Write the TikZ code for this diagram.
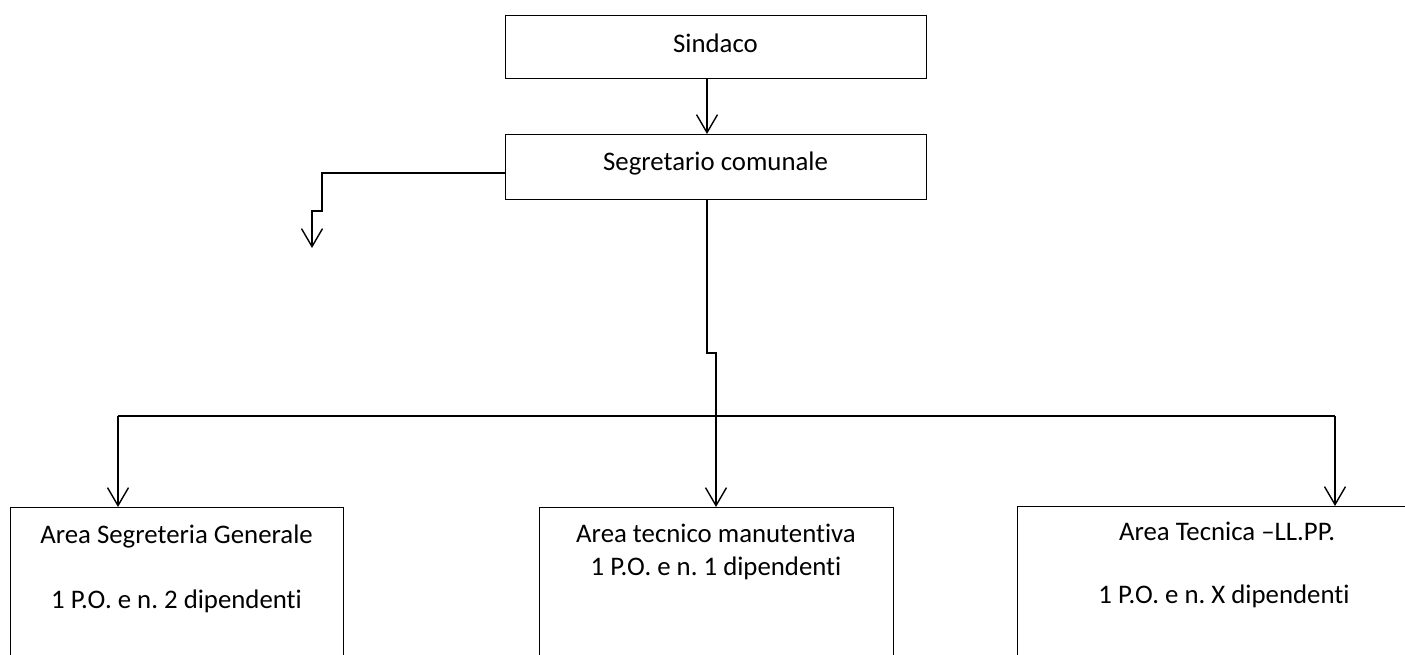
\documentclass[tikz,border=0pt]{standalone}
\usepackage{fontspec}
\setmainfont[Ligatures={NoCommon}]{Carlito}
\usetikzlibrary{arrows.meta}
\frenchspacing
\begin{document}
\begin{tikzpicture}[x=1pt,y=-1pt,
  box/.style={draw,line width=1.4pt,rectangle,inner sep=0pt,anchor=north west},
  lbl/.style={anchor=base,inner sep=0pt,font=\fontsize{26.8}{31}\selectfont},
  conn/.style={line width=1.4pt},
  arr/.style={conn,-{Straight Barb[length=18pt,width=21pt,line width=1.4pt]}}]
\useasboundingbox (0,0) rectangle (1405,654);
\clip (0,0) rectangle (1405,654);
% boxes
\node[box,minimum width=421pt,minimum height=63pt] (sind) at (505,15) {};
\node[box,minimum width=421pt,minimum height=65pt] (segr) at (505,134) {};
\node[box,minimum width=333pt,minimum height=200pt] (areaA) at (10,507) {};
\node[box,minimum width=354pt,minimum height=200pt] (areaB) at (539,507) {};
\node[box,minimum width=416pt,minimum height=200pt] (areaC) at (1017,506) {};
% labels
\node[lbl] (tsind) at (715.5,52) {Sindaco};
\node[lbl] (tsegr) at (715.5,170) {Segretario comunale};
\node[lbl] (tA1) at (176.5,543) {Area Segreteria Generale};
\node[lbl] (tA2) at (176.5,608) {1 P.O. e n. 2 dipendenti};
\node[lbl] (tB1) at (716,542) {Area tecnico manutentiva};
\node[lbl] (tB2) at (716,575) {1 P.O. e n. 1 dipendenti};
\node[lbl] (tC1) at (1227,540) {Area Tecnica –LL.PP.};
\node[lbl] (tC2) at (1224,603) {1 P.O. e n. X dipendenti};
% coordinates
\coordinate (xa) at (707,0);
\coordinate (xb) at (716,0);
\coordinate (jog) at (707,353);
\coordinate (lft) at (322,173);
\coordinate (lstep) at (312,211);
\coordinate (lend) at (312,248);
\coordinate (hL) at (118,416);
\coordinate (hR) at (1335,416);
% connectors
\draw[arr] (sind.south -| xa) -- (segr.north -| xa);
\draw[arr] (segr.west |- lft) -- (lft) -- (lft |- lstep) -- (lstep) -- (lend);
\draw[arr] (segr.south -| xa) -- (jog) -- (jog -| xb) -- (areaB.north -| xb);
\draw[conn] (hL) -- (hR);
\draw[arr] (hL) -- (areaA.north -| hL);
\draw[arr] (hR) -- (areaC.north -| hR);
\end{tikzpicture}
\end{document}
